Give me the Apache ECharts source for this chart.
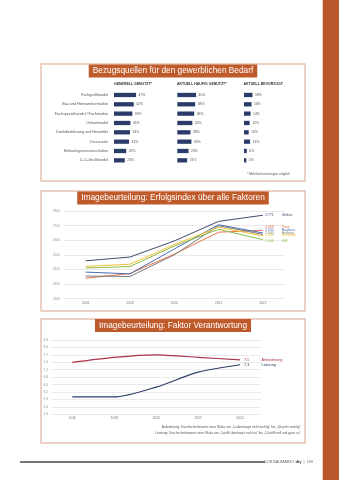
<!DOCTYPE html>
<html>
<head>
<meta charset="utf-8">
<script src="https://cdn.jsdelivr.net/npm/echarts@6/dist/echarts.min.js"></script>
<style>
  html, body { margin: 0; padding: 0; background: #fff; }
  #c { width: 339px; height: 480px; }
</style>
</head>
<body>
<div id="c"></div>
<script>
// --- Bezugsquellen (bar panel) ---
const sources = ['Fachgroßhandel', 'Bau und Heimwerkermärkte', 'Fachspezialhandel / Fachmärkte', 'Onlinehandel',
  'Direktbelieferung und Hersteller', 'Discounter', 'Einkaufsgenossenschaften', 'C+C-Großhandel'];
const usedGenerally = [47, 42, 39, 35, 34, 32, 26, 23];
const usedOften = [40, 38, 36, 32, 28, 30, 24, 21];
const preferred = [18, 16, 14, 12, 10, 13, 6, 5];
const columnTitles = ['GENERELL GENUTZT*', 'AKTUELL HÄUFIG GENUTZT*', 'AKTUELL BEVORZUGT'];

// --- Erfolgsindex (line panel) ---
const years = ['2016', '2018', '2020', '2021', '2022'];
const stores = ['Globus', 'Toom', 'Bauhaus', 'Hellweg', 'Hornbach', 'OBI'];
const globus = [2459, 2485, 2595, 2729, 2771];
const toom = [2340, 2372, 2505, 2655, 2668];
const bauhaus = [2382, 2370, 2540, 2706, 2650];
const hellweg = [2355, 2352, 2500, 2699, 2640];
const hornbach = [2421, 2436, 2570, 2689, 2630];
const obi = [2410, 2420, 2560, 2675, 2604];
const indexTicks = { min: 2200, max: 2800, step: 100 };

// --- Faktor Verantwortung ---
const factorNames = ['Anforderung', 'Leistung'];
const anforderung = [7.4, 7.6, 7.7, 7.6, 7.5];
const leistung = [6.0, 6.0, 6.4, 7.0, 7.3];
const factorTicks = { min: 5.3, max: 8.3, step: 0.3 };

const FONT = 'Liberation Sans, Arial, sans-serif';
const ORANGE = '#bf5a2b';
const BOX = '#e5c3b1';

const fmtIndex = v => String(v).replace(/\B(?=(\d{3})+(?!\d))/g, '.');
const fmtDec = v => v.toFixed(1).replace('.', ',');

const chart = echarts.init(document.getElementById('c'));

const grid = [], xAxis = [], yAxis = [], series = [];

// bar columns
const barCols = [usedGenerally, usedOften, preferred];
const barLeft = [114, 177.3, 244];
barCols.forEach((vals, i) => {
  grid.push({ left: barLeft[i], top: 90.3, width: 47, height: 74.7 });
  xAxis.push({ type: 'value', gridIndex: i, min: 0, max: 100, show: false });
  yAxis.push({
    type: 'category', gridIndex: i, data: sources, inverse: true,
    axisLine: { show: false }, axisTick: { show: false }, splitLine: { show: false },
    axisLabel: { show: i === 0, fontSize: 3.7, color: '#555', margin: 6, fontFamily: FONT }
  });
  series.push({
    type: 'bar', xAxisIndex: i, yAxisIndex: i, data: vals, barWidth: 4.3,
    itemStyle: { color: '#2b3c6b' },
    label: { show: true, position: 'right', distance: 2.5, formatter: '{c}%', fontSize: 3.4, color: '#555', fontFamily: FONT }
  });
});

// index lines
grid.push({ left: 63.5, top: 211, width: 221.5, height: 87.7 });
xAxis.push({
  type: 'category', gridIndex: 3, data: years,
  axisLine: { show: false }, axisTick: { show: false },
  axisLabel: { fontSize: 3.3, color: '#777', margin: 3, fontFamily: FONT }
});
yAxis.push({
  type: 'value', gridIndex: 3, min: indexTicks.min, max: indexTicks.max, interval: indexTicks.step,
  axisLine: { show: false }, axisTick: { show: false },
  axisLabel: { fontSize: 3.3, color: '#999', margin: 3.5, fontFamily: FONT, formatter: v => String(v) },
  splitLine: { lineStyle: { color: '#e4e4e4', width: 0.8 } }
});
const storeValues = [globus, toom, bauhaus, hellweg, hornbach, obi];
const storeColors = ['#3e4c6d', '#e8744a', '#4b6db5', '#7c7c7c', '#f0c232', '#8cbd4e'];
const endNudge = [0, -3, -3, -1.8, -0.6, 1];
storeValues.forEach((vals, s) => {
  series.push({
    type: 'line', name: stores[s], xAxisIndex: 3, yAxisIndex: 3,
    symbol: 'none', lineStyle: { width: 1, color: storeColors[s] }, itemStyle: { color: storeColors[s] },
    data: vals.map((v, k) => k === 0
      ? { value: v, label: { show: true, position: 'left', distance: 4, formatter: p => fmtIndex(p.value), fontSize: 3.3, color: storeColors[s], fontFamily: FONT } }
      : v),
    endLabel: {
      show: true, distance: 2.5, offset: [0, endNudge[s]],
      formatter: p => '{v|' + fmtIndex(p.value) + '}{n|' + p.seriesName + '}',
      rich: {
        v: { fontSize: 3.3, color: storeColors[s], width: 16.5, fontFamily: FONT },
        n: { fontSize: 3.3, color: storeColors[s], fontFamily: FONT }
      }
    }
  });
});

// responsibility factor
grid.push({ left: 51.3, top: 340, width: 209.7, height: 74.3 });
xAxis.push({
  type: 'category', gridIndex: 4, data: years,
  axisLine: { show: false }, axisTick: { show: false },
  axisLabel: { fontSize: 3.3, color: '#777', margin: 2.5, fontFamily: FONT }
});
yAxis.push({
  type: 'value', gridIndex: 4, min: factorTicks.min, max: factorTicks.max, interval: factorTicks.step,
  axisLine: { show: false }, axisTick: { show: false },
  axisLabel: { fontSize: 3.5, color: '#999', margin: 3, fontFamily: FONT, formatter: v => fmtDec(v) },
  splitLine: { lineStyle: { color: '#e4e4e4', width: 0.8 } }
});
const factorValues = [anforderung, leistung];
const factorColors = ['#a7334a', '#2c3d66'];
factorValues.forEach((vals, s) => {
  series.push({
    type: 'line', name: factorNames[s], xAxisIndex: 4, yAxisIndex: 4, smooth: 0.25,
    symbol: 'none', lineStyle: { width: 1.2, color: factorColors[s] }, itemStyle: { color: factorColors[s] },
    data: vals.map((v, k) => k === 0
      ? { value: v, label: { show: true, position: 'left', distance: 4, formatter: p => fmtDec(p.value), fontSize: 3.8, color: factorColors[s], fontFamily: FONT } }
      : v),
    endLabel: {
      show: true, distance: 4,
      formatter: p => '{v|' + fmtDec(p.value) + '}{n|' + p.seriesName + '}',
      rich: {
        v: { fontSize: 3.8, color: factorColors[s], width: 17.5, fontFamily: FONT },
        n: { fontSize: 3.8, color: factorColors[s], fontFamily: FONT }
      }
    }
  });
});

const titleStyle = (text, y) => ({
  type: 'text', x: 173, y: y, z: 10,
  style: {
    text: text, fill: '#fff', font: '8.3px ' + FONT, textAlign: 'center', textVerticalAlign: 'top',
    backgroundColor: ORANGE, padding: [2.5, 4, 2.5, 4]
  }
});
const box = (y, h) => ({
  type: 'rect', shape: { x: 41, y: y, width: 264, height: h },
  style: { fill: 'none', stroke: BOX, lineWidth: 1.5 }
});
const smallText = (text, x, y, align, size, color, weight) => ({
  type: 'text', x: x, y: y,
  style: { text: text, fill: color || '#555', font: (weight || 'normal') + ' ' + size + 'px ' + FONT, textAlign: align, textVerticalAlign: 'middle' }
});

const graphic = [
  { type: 'rect', shape: { x: 322.7, y: 0, width: 16.3, height: 480 }, style: { fill: '#b9592b' } },
  box(64, 117), box(191, 120), box(319, 124),
  titleStyle('Bezugsquellen für den gewerblichen Bedarf', 64.5),
  titleStyle('Imagebeurteilung: Erfolgsindex über alle Faktoren', 191.5),
  titleStyle('Imagebeurteilung: Faktor Verantwortung', 319),
  smallText(columnTitles[0], 114, 84, 'left', 3.5, '#333', 'bold'),
  smallText(columnTitles[1], 177, 84, 'left', 3.5, '#333', 'bold'),
  smallText(columnTitles[2], 243.5, 84, 'left', 3.5, '#333', 'bold'),
  smallText('* Mehrfachnennungen möglich', 290, 174, 'right', 3.2, '#555'),
  smallText('Anforderung: Durchschnittswerte einer Skala von \u201E1=\u00FCberhaupt nicht wichtig\u201C bis \u201E10=sehr wichtig\u201C', 300.5, 426.7, 'right', 3.2, '#555'),
  smallText('Leistung: Durchschnittswerte einer Skala von \u201E1=trifft \u00FCberhaupt nicht zu\u201C bis \u201E10=trifft voll und ganz zu\u201C', 300.5, 432.7, 'right', 3.2, '#555'),
  { type: 'line', shape: { x1: 20, y1: 462, x2: 265, y2: 462 }, style: { stroke: '#7b746f', lineWidth: 2 } },
  {
    type: 'text', x: 313, y: 462,
    style: {
      text: '{a|DOS BAUMARKT }{b|diy}{a|  |  109}', textAlign: 'right', textVerticalAlign: 'middle',
      rich: { a: { fontSize: 3.8, fill: '#666', fontFamily: FONT }, b: { fontSize: 4.2, fill: '#333', fontWeight: 'bold', fontFamily: FONT } }
    }
  }
];

chart.setOption({
  animation: false,
  backgroundColor: '#fff',
  textStyle: { fontFamily: FONT },
  grid, xAxis, yAxis, series, graphic
});
</script>
</body>
</html>
